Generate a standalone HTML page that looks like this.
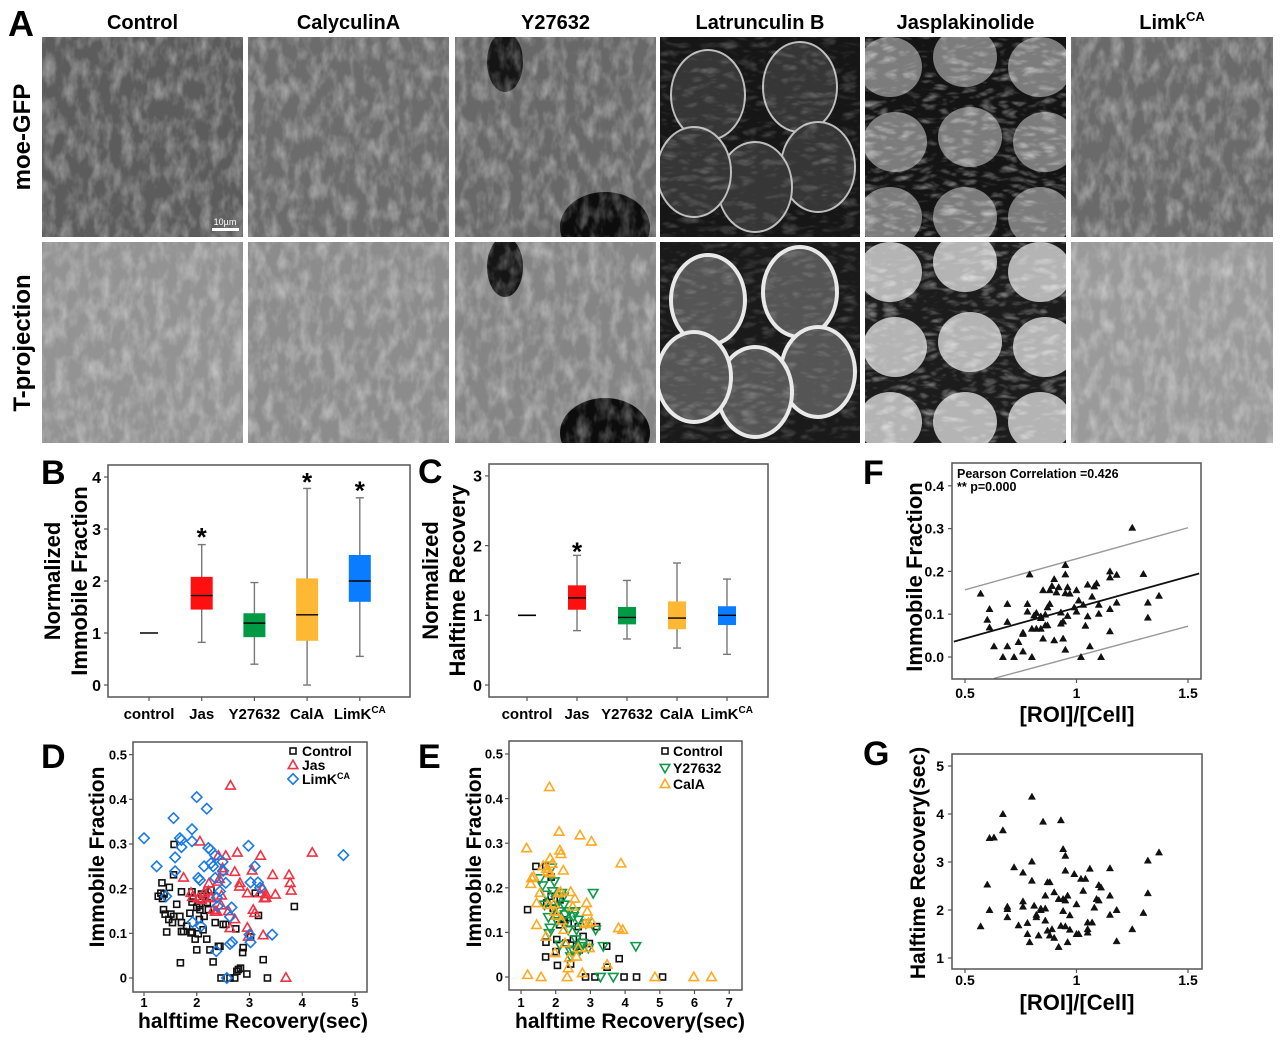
<!DOCTYPE html>
<html><head><meta charset="utf-8">
<style>
html,body{margin:0;padding:0;background:#fff;}
svg{display:block;font-family:"Liberation Sans",Arial,sans-serif;font-weight:bold;}
</style></head>
<body>
<svg id="fig" width="1280" height="1041" viewBox="0 0 1280 1041" xmlns="http://www.w3.org/2000/svg">
<defs>
<filter id="noise" x="0" y="0" width="100%" height="100%">
<feTurbulence type="fractalNoise" baseFrequency="0.09 0.05" numOctaves="3" seed="4" result="t"/>
<feColorMatrix type="matrix" values="0 0 0 0 1  0 0 0 0 1  0 0 0 0 1  1.4 0 0 0 -0.55"/>
</filter>
<filter id="noise2" x="0" y="0" width="100%" height="100%">
<feTurbulence type="turbulence" baseFrequency="0.05 0.12" numOctaves="2" seed="9"/>
<feColorMatrix type="matrix" values="0 0 0 0 1  0 0 0 0 1  0 0 0 0 1  1.6 0 0 0 -0.35"/>
</filter>
</defs>
<g id="panelA"></g>
<g id="charts"></g>
</svg>
<script>
const NS="http://www.w3.org/2000/svg";
function mk(tag,attrs,parent){const e=document.createElementNS(NS,tag);for(const k in attrs)e.setAttribute(k,attrs[k]);parent.appendChild(e);return e;}
function txt(parent,x,y,s,size,anchor,extra){const t=mk('text',Object.assign({x:x,y:y,'font-size':size,'text-anchor':anchor||'start',fill:'#000'},extra||{}),parent);t.textContent=s;return t;}

/* ---------- Panel A ---------- */
const A=document.getElementById('panelA');
const colNames=["Control","CalyculinA","Y27632","Latrunculin B","Jasplakinolide","Limk"];
const colX=[42,248,455,660,865,1071];
const colW=[201,201,201,200,201,202];
const row1Bg=["#5c5c5c","#6c6c6c","#686868","#161616","#141414","#6a6a6a"];
const row2Bg=["#939393","#8c8c8c","#858585","#1a1a1a","#1c1c1c","#9a9a9a"];
const rowY=[37,242];const rowH=[200,201];
let lbl=txt(A,8,36,"A",36,'start');


for(let c=0;c<6;c++){
  const t=txt(A,colX[c]+colW[c]/2,29,colNames[c],20,'middle');
  
  
  if(c===5){const s=mk('tspan',{dy:-8,'font-size':13},t);s.textContent="CA";}
}
let rl=txt(A,0,0,"moe-GFP",24,'middle',{transform:"translate(30,137) rotate(-90)"});


rl=txt(A,0,0,"T-projection",24,'middle',{transform:"translate(30,343) rotate(-90)"});



function cellImage(c,r){
  const g=mk('g',{},A);
  
  
  const x=colX[c],y=rowY[r],w=colW[c],h=rowH[r];
  const cpE=mk('clipPath',{id:'cp'+c+r},g);
  mk('rect',{x:x,y:y,width:w,height:h},cpE);
  const inner=mk('g',{'clip-path':'url(#cp'+c+r+')'},g);
  mk('rect',{x:x,y:y,width:w,height:h,fill:(r?row2Bg:row1Bg)[c]},inner);
  if(c===2){
    mk('ellipse',{cx:x+150,cy:y+h-10,rx:45,ry:35,fill:'#0c0c0c'},inner);
    mk('ellipse',{cx:x+50,cy:y+25,rx:18,ry:30,fill:'#151515'},inner);
  }
  if(c===3){
    const cells=[[48,58],[140,50],[158,130],[95,150],[34,135]];
    cells.forEach(p=>{
      mk('ellipse',{cx:x+p[0],cy:y+p[1],rx:37,ry:45,fill:r?'#555':'#363636',stroke:r?'#e8e8e8':'#bdbdbd','stroke-width':r?4:2},inner);
    });
  }
  if(c===4){
    const cells=[[25,30],[100,20],[175,30],[30,105],[105,100],[180,105],[25,180],[100,180],[175,180]];
    cells.forEach(p=>{
      mk('ellipse',{cx:x+p[0],cy:y+p[1],rx:32,ry:30,fill:r?'#b4b4b4':'#7c7c7c'},inner);
    });
  }
  mk('rect',{x:x,y:y,width:w,height:h,filter:(c===3||c===4)?'url(#noise2)':'url(#noise)',opacity:(c===3)?0.25:0.55},inner);
}
for(let r=0;r<2;r++)for(let c=0;c<6;c++)cellImage(c,r);
let sb=mk('rect',{x:212,y:228,width:27,height:3,fill:'#fff'},A);


sb=txt(A,225,225,"10µm",9,'middle',{fill:'#fff','font-weight':'normal'});



/* ---------- Data ---------- */
const boxCategories=["control","Jas","Y27632","CalA","LimK"];
const boxColors=["#000","#ff1010","#009a44","#ffb833","#0a7cff"];
const bWhiskLo=[1,0.82,0.40,0.00,0.55];
const bQ1=[1,1.45,0.92,0.85,1.60];
const bMed=[1,1.72,1.19,1.35,2.00];
const bQ3=[1,2.08,1.38,2.05,2.50];
const bWhiskHi=[1,2.70,1.97,3.78,3.60];
const bStar=[null,2.92,null,3.98,3.82];
const bTicks=[0,1,2,3,4];
const cWhiskLo=[1,0.78,0.66,0.53,0.44];
const cQ1=[1,1.08,0.87,0.80,0.86];
const cMed=[1,1.25,0.97,0.96,1.00];
const cQ3=[1,1.43,1.12,1.20,1.13];
const cWhiskHi=[1,1.86,1.50,1.75,1.52];
const cStar=[null,1.97,null,null,null];
const cTicks=[0,1,2,3];
const dControlX=[1.34,1.32,1.35,1.38,1.27,1.48,1.37,1.40,1.51,1.54,1.56,1.57,1.62,1.68,1.71,1.71,1.69,1.71,1.75,1.81,1.87,1.89,1.91,1.91,1.93,2.00,2.00,2.03,2.05,1.97,2.06,2.12,2.12,2.19,2.22,2.25,2.27,2.31,2.35,2.44,2.46,2.50,2.55,2.63,2.72,2.74,2.76,2.79,2.83,2.87,2.88,2.95,3.11,3.17,3.02,3.26,3.34,3.85,2.09,2.14,2.20,1.91,2.41,2.05,1.47,1.56,1.43];
const dControlY=[0.213,0.190,0.178,0.188,0.183,0.203,0.153,0.143,0.143,0.124,0.231,0.299,0.165,0.138,0.124,0.104,0.034,0.193,0.104,0.116,0.145,0.101,0.170,0.193,0.178,0.158,0.063,0.099,0.131,0.087,0.153,0.108,0.183,0.087,0.153,0.063,0.197,0.036,0.124,0.071,0,0.120,0.120,0,0,0.110,0.015,0.019,0.022,0.057,0.068,0.009,0.190,0.140,0.092,0.041,0,0.160,0.188,0.138,0.169,0.103,0.071,0.162,0.131,0.138,0.103];
const dJasX=[1.75,1.89,1.92,2.06,2.14,2.03,2.22,2.23,2.27,2.27,2.35,2.38,2.40,2.41,2.43,2.46,2.47,2.49,2.50,2.55,2.60,2.64,2.72,2.72,2.77,2.81,2.82,2.96,2.96,2.98,3.05,3.07,3.10,3.19,3.21,3.26,3.25,3.28,3.31,3.31,3.44,3.49,3.69,3.75,3.77,3.79,4.19,2.09,2.31,2.63];
const dJasY=[0.225,0.191,0.182,0.306,0.191,0.179,0.195,0.212,0.182,0.179,0.149,0.149,0.216,0.274,0.222,0.163,0.185,0.246,0.240,0.274,0.150,0.431,0.132,0.238,0.281,0.205,0.213,0.190,0.113,0.093,0.241,0.153,0.146,0.190,0.274,0.096,0.201,0.179,0.188,0.180,0.231,0.187,0.001,0.231,0.213,0.196,0.281,0.175,0.153,0.112];
const dLimX=[1.00,1.24,1.42,1.56,1.59,1.68,1.71,1.71,1.59,1.91,1.91,2.00,2.03,2.06,1.92,2.08,2.19,2.22,2.14,2.26,2.27,2.31,2.35,2.35,2.38,2.40,2.44,2.49,2.50,2.55,2.63,2.66,2.67,2.63,3.00,3.02,2.98,3.02,3.10,3.16,3.20,3.43,4.78,2.37,2.57];
const dLimY=[0.313,0.250,0.183,0.358,0.270,0.313,0.309,0.293,0.239,0.333,0.306,0.405,0.224,0.219,0.125,0.116,0.379,0.291,0.250,0.287,0.257,0.250,0.274,0.224,0.180,0.161,0.194,0.260,0.240,0.213,0.137,0.158,0.080,0.076,0.097,0.080,0.296,0.214,0.250,0.214,0.202,0.097,0.275,0.060,0];
const eControlX=[1.19,1.43,1.71,1.71,1.72,1.87,1.87,2.03,2.05,2.01,2.03,2.11,2.13,2.24,2.29,2.36,2.43,2.51,2.60,2.65,2.68,2.79,2.86,2.97,3.13,3.18,3.47,3.48,3.83,3.97,4.33,5.08,1.74,1.93];
const eControlY=[0.151,0.248,0.248,0.045,0.078,0.224,0.181,0.084,0.026,0.057,0.136,0.117,0.173,0.128,0.076,0.120,0.029,0.085,0.069,0.113,0.061,0.091,0,0.075,0,0.113,0.069,0.022,0.041,0,0,0,0.166,0.154];
const eYX=[1.55,1.62,1.68,1.72,1.79,1.81,1.88,1.91,1.96,1.98,2.02,2.04,2.10,2.12,2.17,2.24,2.27,2.31,2.36,2.39,2.43,2.43,2.51,2.56,2.58,2.60,2.65,2.70,2.75,2.78,2.87,2.94,3.08,3.15,3.29,3.37,3.66,4.31,1.84,2.22,2.49];
const eYY=[0.221,0.205,0.162,0.184,0.134,0.098,0.245,0.192,0.214,0.154,0.172,0.125,0.147,0.072,0.188,0.162,0.140,0.125,0.106,0.147,0.058,0.046,0.136,0.147,0.084,0.106,0.128,0.061,0.069,0.076,0.120,0.065,0.188,0.106,0,0.069,0,0.069,0.110,0.180,0.061];
const eCalX=[1.16,1.19,1.31,1.28,1.36,1.45,1.58,1.64,1.74,1.77,1.82,1.84,1.90,1.84,1.77,1.72,1.95,1.98,2.03,2.08,2.10,2.12,2.15,2.14,2.17,2.22,2.24,2.27,2.33,2.36,2.39,2.43,2.49,2.55,2.60,2.65,2.70,2.77,2.84,2.89,2.91,2.94,2.97,3.03,3.03,3.48,3.81,3.88,3.93,4.86,5.98,6.49,1.45,1.55,1.98];
const eCalY=[0.289,0.005,0.222,0.209,0.225,0.117,0,0.249,0.243,0.237,0.426,0.266,0.254,0.233,0.162,0.091,0.164,0.054,0.138,0.188,0.326,0.284,0.276,0.191,0.127,0.239,0.106,0.076,0,0.020,0.043,0.191,0.158,0.176,0.046,0.065,0.318,0.009,0.119,0.166,0.147,0.121,0.065,0.304,0.124,0.028,0.110,0.255,0.106,0,0,0,0.166,0.189,0.147];
const fX=[0.57,0.61,0.60,0.61,0.63,0.67,0.69,0.69,0.69,0.72,0.74,0.76,0.76,0.76,0.78,0.78,0.79,0.80,0.80,0.81,0.82,0.82,0.84,0.84,0.84,0.85,0.85,0.86,0.86,0.87,0.87,0.88,0.88,0.89,0.90,0.90,0.91,0.92,0.93,0.93,0.94,0.94,0.95,0.95,0.95,0.95,0.96,0.96,0.97,0.99,1.00,1.00,1.01,1.02,1.03,1.04,1.05,1.05,1.06,1.07,1.08,1.09,1.10,1.10,1.11,1.15,1.15,1.15,1.15,1.18,1.18,1.25,1.30,1.32,1.32,1.37];
const fY=[0.148,0.112,0.087,0.069,0.025,0,0.025,0.124,0.082,0,0.035,0.013,0.054,0.057,0.124,0.106,0.193,0.066,0,0.097,0.103,0.066,0.066,0.095,0.091,0.156,0.043,0.099,0.074,0.116,0.074,0.124,0.156,0.166,0.182,0.039,0.151,0.163,0.104,0.078,0.083,0.043,0.193,0.149,0.215,0.017,0.096,0.163,0.148,0.116,0.156,0.106,0.132,0,0.122,0.073,0.169,0.095,0.025,0.141,0.165,0.172,0.122,0.101,0,0.06,0.2,0.186,0.112,0.127,0.192,0.302,0.194,0.127,0.092,0.143];
const fFitX=[0.45,1.55];
const fFitY=[0.036,0.195];
const fUpperX=[0.5,1.5];
const fUpperY=[0.157,0.302];
const fLowerX=[0.63,1.5];
const fLowerY=[-0.05,0.072];
const fYTicks=[0.0,0.1,0.2,0.3,0.4];
const roiTicks=[0.5,1,1.5];
const gX=[0.57,0.60,0.61,0.61,0.63,0.67,0.67,0.69,0.69,0.69,0.72,0.74,0.76,0.76,0.76,0.78,0.78,0.79,0.80,0.80,0.80,0.81,0.82,0.82,0.83,0.84,0.84,0.85,0.86,0.86,0.86,0.87,0.87,0.88,0.88,0.89,0.90,0.90,0.92,0.92,0.93,0.93,0.94,0.94,0.94,0.95,0.95,0.95,0.95,0.96,0.96,0.97,0.97,0.99,1.00,1.00,1.01,1.02,1.03,1.04,1.05,1.05,1.05,1.06,1.07,1.08,1.09,1.10,1.10,1.11,1.15,1.15,1.15,1.18,1.18,1.25,1.30,1.32,1.32,1.37];
const gY=[1.66,2.53,2.0,3.5,3.51,4.0,3.66,2.07,2.02,1.85,2.89,1.68,2.78,2.18,2.07,1.73,1.5,1.33,3.01,2.61,4.36,2.09,1.9,1.85,1.47,2.0,2.03,3.84,2.3,2.03,1.78,1.57,2.58,2.58,1.47,1.6,1.42,2.37,2.23,1.23,3.87,1.67,1.98,3.27,2.23,3.13,2.2,1.66,2.82,1.33,2.3,1.59,1.89,2.75,2.12,1.5,1.5,2.65,2.4,2.65,1.6,1.53,1.74,2.86,1.74,2.05,2.23,2.52,2.2,2.47,2.3,2.87,1.9,2.0,1.35,1.6,1.94,2.35,3.03,3.2];
const gYTicks=[1,2,3,4,5];
const dYTicks=[0,0.1,0.2,0.3,0.4,0.5];
const dXTicks=[1,2,3,4,5];
const eXTicks=[1,2,3,4,5,6,7];

/* ---------- helpers ---------- */
const C=document.getElementById('charts');
function frame(g,x0,y0,x1,y1){const r=mk('rect',{x:x0,y:y0,width:x1-x0,height:y1-y0,fill:'none',stroke:'#555','stroke-width':1.5},g);}
function yTicks(g,ticks,ys,xAxis,labX,size,fmt){ticks.forEach(v=>{const y=ys(v);mk('line',{x1:xAxis-4,x2:xAxis,y1:y,y2:y,stroke:'#555','stroke-width':1.2},g);const t=txt(g,labX,y+size*0.36,fmt?fmt(v):String(v),size,'end');});}
function xTicks(g,ticks,xs,yAxis,labY,size,fmt){ticks.forEach(v=>{const x=xs(v);mk('line',{x1:x,x2:x,y1:yAxis,y2:yAxis+4,stroke:'#555','stroke-width':1.2},g);const t=txt(g,x,labY,fmt?fmt(v):String(v),size,'middle');});}
function panelLabel(g,s,x,y){const t=txt(g,x,y,s,34,'start');}
function marker(g,type,x,y,s,color,filled){
  let e;
  if(type==='sq') e=mk('rect',{x:x-s/2,y:y-s/2,width:s,height:s,fill:'none',stroke:color,'stroke-width':1.6},g);
  else if(type==='tri') e=mk('polygon',{points:`${x},${y-s*0.6} ${x-s*0.6},${y+s*0.45} ${x+s*0.6},${y+s*0.45}`,fill:filled?color:'none',stroke:color,'stroke-width':filled?0.5:1.6},g);
  else if(type==='itri') e=mk('polygon',{points:`${x},${y+s*0.6} ${x-s*0.6},${y-s*0.45} ${x+s*0.6},${y-s*0.45}`,fill:filled?color:'none',stroke:color,'stroke-width':1.6},g);
  else e=mk('polygon',{points:`${x},${y-s*0.65} ${x+s*0.65},${y} ${x},${y+s*0.65} ${x-s*0.65},${y}`,fill:'none',stroke:color,'stroke-width':1.6},g);
  return e;
}

/* ---------- box plots ---------- */
function boxPlot(name,label,lx,box,catX0,catDX,yBase,yScale,bw,lo,q1,med,q3,hi,star,ticks,titles,titleX,labY){
  const g=mk('g',{},C);
  
  
  const ys=v=>yBase-v*yScale;
  const xs=i=>catX0+i*catDX;
  panelLabel(g,label,lx,box[1]+19);
  frame(g,box[0],box[1],box[2],box[3]);
  yTicks(g,ticks,ys,box[0],box[0]-7,16);
  boxCategories.forEach((c,i)=>{
    const x=xs(i);
    mk('line',{x1:x,x2:x,y1:box[3],y2:box[3]+4,stroke:'#555','stroke-width':1.2},g);
    const t=txt(g,x,labY,c,15,'middle');
    
    
    if(i===4){t.textContent='LimK';const s=mk('tspan',{dy:-6,'font-size':10},t);s.textContent='CA';}
    if(i===0){
      const m=mk('line',{x1:x-9,x2:x+9,y1:ys(med[i]),y2:ys(med[i]),stroke:'#000','stroke-width':1.6},g);
      
      
      return;
    }
    mk('line',{x1:x,x2:x,y1:ys(hi[i]),y2:ys(lo[i]),stroke:'#777','stroke-width':1.4},g);
    mk('line',{x1:x-4,x2:x+4,y1:ys(hi[i]),y2:ys(hi[i]),stroke:'#777','stroke-width':1.4},g);
    mk('line',{x1:x-4,x2:x+4,y1:ys(lo[i]),y2:ys(lo[i]),stroke:'#777','stroke-width':1.4},g);
    const b=mk('rect',{x:x-bw/2,y:ys(q3[i]),width:bw,height:ys(q1[i])-ys(q3[i]),fill:boxColors[i]},g);
    
    
    mk('line',{x1:x-bw/2,x2:x+bw/2,y1:ys(med[i]),y2:ys(med[i]),stroke:'#000','stroke-width':1.4},g);
    if(star[i]!==null){const s=txt(g,x,ys(star[i])+13,'*',26,'middle');}
  });
  titles.forEach((tt,k)=>{
    const t=txt(g,0,0,tt,22,'middle',{transform:`translate(${titleX[k]},${(box[1]+box[3])/2}) rotate(-90)`});
    
    
  });
}
boxPlot('panel-b-immobile-fraction','B',41,[108,465,410,697],149,52.7,685,52,22,bWhiskLo,bQ1,bMed,bQ3,bWhiskHi,bStar,bTicks,["Normalized","Immobile Fraction"],[60,87],719);
boxPlot('panel-c-halftime-recovery','C',418,[489,464,768,697],527,50,685,69.7,18,cWhiskLo,cQ1,cMed,cQ3,cWhiskHi,cStar,cTicks,["Normalized","Halftime Recovery"],[438,465],719);

/* ---------- scatter D ---------- */
(function(){
  const g=mk('g',{},C);
  
  
  const xs=v=>144+(v-1)*52.75, ys=v=>978-v*446.7;
  panelLabel(g,'D',41,768);
  frame(g,133,742,367,992);
  yTicks(g,dYTicks,ys,133,127,13);
  xTicks(g,dXTicks,xs,992,1007,13);
  dControlX.forEach((v,i)=>{const m=marker(g,'sq',xs(v),ys(dControlY[i]),6,'#111');});
  dJasX.forEach((v,i)=>{const m=marker(g,'tri',xs(v),ys(dJasY[i]),8,'#ee3344');});
  dLimX.forEach((v,i)=>{const m=marker(g,'dia',xs(v),ys(dLimY[i]),8,'#1a7ae8');});
  const lg=mk('g',{},g);
  
  
  marker(lg,'sq',293,751,6,'#111');marker(lg,'tri',293,765,8,'#ee3344');marker(lg,'dia',293,779,8,'#1a7ae8');
  let t=txt(lg,302,756,'Control',14,'start');
  t=txt(lg,302,770,'Jas',14,'start');
  t=txt(lg,302,784,'LimK',14,'start');
  const s=mk('tspan',{dy:-5,'font-size':9},t);s.textContent='CA';
  t=txt(g,253,1028,'halftime Recovery(sec)',21,'middle');
  t=txt(g,0,0,'Immobile Fraction',21,'middle',{transform:'translate(104,857) rotate(-90)'});
})();

/* ---------- scatter E ---------- */
(function(){
  const g=mk('g',{},C);
  
  
  const xs=v=>521+(v-1)*34.7, ys=v=>977-v*446;
  panelLabel(g,'E',418,768);
  frame(g,509,741,742,990);
  yTicks(g,dYTicks,ys,509,503,13);
  xTicks(g,eXTicks,xs,990,1007,13);
  eControlX.forEach((v,i)=>{const m=marker(g,'sq',xs(v),ys(eControlY[i]),6,'#111');});
  eYX.forEach((v,i)=>{const m=marker(g,'itri',xs(v),ys(eYY[i]),8,'#119a4a');});
  eCalX.forEach((v,i)=>{const m=marker(g,'tri',xs(v),ys(eCalY[i]),8,'#ffaa22');});
  const lg=mk('g',{},g);
  
  
  marker(lg,'sq',665,751,6,'#111');marker(lg,'itri',665,768,8,'#119a4a');marker(lg,'tri',665,784,8,'#ffaa22');
  let t=txt(lg,673,756,'Control',14,'start');
  t=txt(lg,673,773,'Y27632',14,'start');
  t=txt(lg,673,789,'CalA',14,'start');
  t=txt(g,630,1028,'halftime Recovery(sec)',21,'middle');
  t=txt(g,0,0,'Immobile Fraction',21,'middle',{transform:'translate(481,857) rotate(-90)'});
})();

/* ---------- scatter F ---------- */
(function(){
  const g=mk('g',{},C);
  
  
  const xs=v=>965+(v-0.5)*223, ys=v=>657-v*428;
  panelLabel(g,'F',863,484);
  const clip=mk('clipPath',{id:'fclip'},g);mk('rect',{x:952,y:463,width:249,height:216},clip);
  const inner=mk('g',{'clip-path':'url(#fclip)'},g);
  let l=mk('line',{x1:xs(fUpperX[0]),y1:ys(fUpperY[0]),x2:xs(fUpperX[1]),y2:ys(fUpperY[1]),stroke:'#999','stroke-width':1.4},inner);
  
  l=mk('line',{x1:xs(fLowerX[0]),y1:ys(fLowerY[0]),x2:xs(fLowerX[1]),y2:ys(fLowerY[1]),stroke:'#999','stroke-width':1.4},inner);
  
  l=mk('line',{x1:xs(fFitX[0]),y1:ys(fFitY[0]),x2:xs(fFitX[1]),y2:ys(fFitY[1]),stroke:'#111','stroke-width':1.8},inner);
  
  fX.forEach((v,i)=>{const m=marker(inner,'tri',xs(v),ys(fY[i]),6,'#111',true);});
  frame(g,952,463,1201,679);
  yTicks(g,fYTicks,ys,952,944,14,v=>v.toFixed(1));
  xTicks(g,roiTicks,xs,679,698,14);
  let t=txt(g,957,478,'Pearson Correlation =0.426',12.5,'start');
  t=txt(g,957,491,'** p=0.000',12.5,'start');
  t=txt(g,1077,722,'[ROI]/[Cell]',22,'middle');
  t=txt(g,0,0,'Immobile Fraction',22,'middle',{transform:'translate(922,577) rotate(-90)'});
})();

/* ---------- scatter G ---------- */
(function(){
  const g=mk('g',{},C);
  
  
  const xs=v=>965+(v-0.5)*223, ys=v=>958-(v-1)*48;
  panelLabel(g,'G',863,765);
  gX.forEach((v,i)=>{const m=marker(g,'tri',xs(v),ys(gY[i]),6,'#111',true);});
  frame(g,952,754,1202,969);
  yTicks(g,gYTicks,ys,952,944,14);
  xTicks(g,roiTicks,xs,969,985,14);
  let t=txt(g,1077,1010,'[ROI]/[Cell]',22,'middle');
  t=txt(g,0,0,'Halftime Recovery(sec)',21,'middle',{transform:'translate(925,863) rotate(-90)'});
})();
</script>
</body></html>
